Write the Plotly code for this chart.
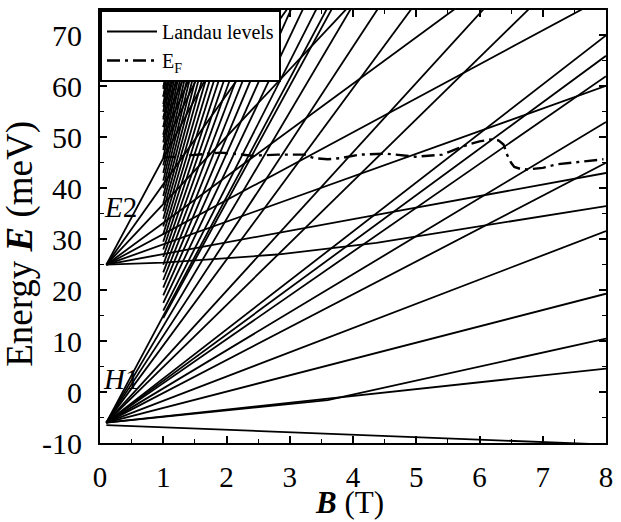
import plotly.graph_objects as go

# ---------------- data ----------------
B_START = 0.1      # fans start here
B_CLUSTER = 1.0    # high-index levels start here
B_END = 8.0

# H1 fan: straight levels from (0.1, h1_start) to (8, h1_end)
h1_start = [-6.5, -6.0, -6.0, -6.0, -6.0, -6.0, -6.0, -6.0, -6.0, -6.0,
            -6.0, -6.0, -6.0, -6.0, -6.0]
h1_end = [-10.3, 4.6, 19.3, 31.6, 45.0, 53.0, 62.0, 66.0, 70.0, 90.0,
          101.5, 127.0, 143.5, 160.0, 178.0]

# curved levels (polylines)
curved_B = [[0.1, 3.6, 8.0],
            [0.1, 1.0, 2.8, 4.37, 8.0],
            [0.1, 1.0, 4.37, 8.0]]
curved_E = [[-6.0, -1.6, 10.5],
            [25.0, 25.4, 27.0, 29.3, 36.5],
            [25.0, 27.1, 34.8, 43.0]]

# E2 fan: straight levels from (0.1, 25); energy at B = 1 T
e2_origin = 25.0
e2_at_1T = [29.0, 31.0, 33.2, 36.9, 40.8, 45.9]

# high-index levels drawn from B = 1 T (energy at B = 1 T)
h1_origin = -6.0
cluster_h1_at_1T = [14.5, 16.0, 17.5, 19.0, 20.5, 22.0, 23.5, 25.0, 26.5, 28.0,
                    29.5, 31.0, 32.5, 34.0, 35.5, 37.0, 38.5, 40.0, 41.5, 43.0,
                    44.5, 46.0, 47.5, 49.0, 50.5, 52.0, 53.5, 55.0, 56.5, 58.0,
                    59.5, 61.0]
cluster_e2_at_1T = [48.0, 50.0, 52.0, 54.0, 56.0, 58.0, 60.0, 62.0]

# Fermi level
ef_B = [1.0, 1.3, 1.6, 1.9, 2.1, 2.4, 2.81, 3.05, 3.23, 3.39, 3.6, 3.79, 4.1,
        4.52, 4.99, 5.41, 5.82, 6.0, 6.19, 6.3, 6.38, 6.44, 6.5, 6.55, 6.65,
        6.75, 7.0, 7.22, 7.6, 7.96]
ef_E = [46.0, 46.3, 46.6, 47.0, 46.8, 46.4, 46.6, 46.6, 46.6, 45.9, 45.7, 45.9,
        46.6, 46.8, 46.2, 46.6, 48.6, 49.2, 49.6, 49.4, 48.6, 46.5, 45.0, 44.2,
        43.8, 43.7, 44.0, 44.7, 45.2, 45.7]

x_ticks = [0, 1, 2, 3, 4, 5, 6, 7, 8]
y_ticks = [-10, 0, 10, 20, 30, 40, 50, 60, 70]
y_tick_text = ["-10", "0", "10", "20", "30", "40", "50", "60", "70"]

# ---------------- build level traces ----------------
xs, ys = [], []
for e0, e8 in zip(h1_start, h1_end):
    xs += [B_START, B_END, None]
    ys += [e0, e8, None]
for bb, ee in zip(curved_B, curved_E):
    xs += bb + [None]
    ys += ee + [None]
for e1 in e2_at_1T:
    s = (e1 - e2_origin) / (B_CLUSTER - B_START)
    xs += [B_START, B_END, None]
    ys += [e2_origin, e2_origin + s * (B_END - B_START), None]
for e1 in cluster_h1_at_1T:
    s = (e1 - h1_origin) / (B_CLUSTER - B_START)
    xs += [B_CLUSTER, B_END, None]
    ys += [e1, e1 + s * (B_END - B_CLUSTER), None]
for e1 in cluster_e2_at_1T:
    s = (e1 - e2_origin) / (B_CLUSTER - B_START)
    xs += [B_CLUSTER, B_END, None]
    ys += [e1, e1 + s * (B_END - B_CLUSTER), None]

FONT = "Liberation Serif"

fig = go.Figure()
fig.add_trace(go.Scatter(x=xs, y=ys, mode="lines", name="Landau levels",
                         line=dict(color="black", width=1.8)))
fig.add_trace(go.Scatter(x=ef_B, y=ef_E, mode="lines", name="E<sub>F</sub>",
                         line=dict(color="black", width=2.4,
                                   dash="13px,5px,3px,5px")))

# level labels
fig.add_annotation(x=0.33, y=36.3, text="<i>E</i>2", showarrow=False,
                   font=dict(family=FONT, size=29, color="black"))
fig.add_annotation(x=0.33, y=2.6, text="<i>H</i>1", showarrow=False,
                   font=dict(family=FONT, size=29, color="black"))

# axis titles
fig.add_annotation(xref="paper", yref="paper", x=-0.158, y=0.46,
                   xanchor="center", yanchor="middle",
                   text="Energy <b><i>E</i></b> (meV)", textangle=-90,
                   showarrow=False,
                   font=dict(family=FONT, size=37, color="black"))
fig.add_annotation(xref="paper", yref="paper", x=0.493, y=-0.1793,
                   xanchor="center", yanchor="bottom", borderpad=0,
                   text="<b><i>B</i></b> (T)", showarrow=False,
                   font=dict(family=FONT, size=31, color="black"))

axis_common = dict(showline=True, linecolor="black", linewidth=2,
                   mirror="allticks", ticks="inside", ticklen=7,
                   tickwidth=1.5, tickcolor="black", showgrid=False,
                   zeroline=False,
                   tickfont=dict(family=FONT, size=30, color="black"))

fig.update_xaxes(range=[0, 8], tickvals=x_ticks, ticklabelstandoff=7,
                 tickfont=dict(family=FONT, size=29, color="black"),
                 minor=dict(ticks="inside", ticklen=4, dtick=0.5,
                            tickcolor="black", tickwidth=1.2),
                 **{k: v for k, v in axis_common.items() if k != "tickfont"})
fig.update_yaxes(range=[-10, 75], tickvals=y_ticks, ticktext=y_tick_text,
                 ticklabelstandoff=10,
                 minor=dict(ticks="inside", ticklen=4, dtick=5,
                            tickcolor="black", tickwidth=1.2),
                 **axis_common)

fig.update_layout(
    width=621, height=522,
    margin=dict(l=100, r=8, t=8, b=79),
    plot_bgcolor="white", paper_bgcolor="white",
    font=dict(family=FONT, color="black"),
    legend=dict(x=0, y=1, xanchor="left", yanchor="top",
                bgcolor="white", bordercolor="black", borderwidth=2,
                font=dict(family=FONT, size=20, color="black"),
                tracegroupgap=0, itemwidth=50),
    showlegend=True,
)

fig.write_html("out.html")
